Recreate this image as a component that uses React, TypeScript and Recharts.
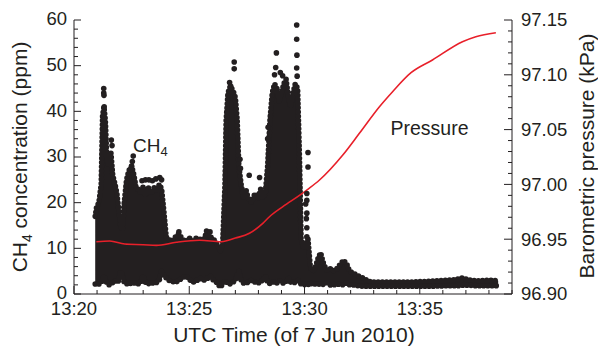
import React from "react";
import { ComposedChart, Area, Scatter, Line, XAxis, YAxis } from "recharts";

// minutes after 13:20
const xTicks = [0, 1, 2, 3, 4, 5, 6, 7, 8, 9, 10, 11, 12, 13, 14, 15, 16, 17, 18, 19];
const xMajor = [0, 5, 10, 15];
const xLabels = ["13:20", "13:25", "13:30", "13:35"];

const ch4Ticks = [0, 2, 4, 6, 8, 10, 12, 14, 16, 18, 20, 22, 24, 26, 28, 30, 32, 34, 36, 38, 40, 42, 44, 46, 48, 50, 52, 54, 56, 58, 60];
const presTicks = [
  96.9, 96.91, 96.92, 96.93, 96.94, 96.95, 96.96, 96.97, 96.98, 96.99, 97.0, 97.01, 97.02,
  97.03, 97.04, 97.05, 97.06, 97.07, 97.08, 97.09, 97.1, 97.11, 97.12, 97.13, 97.14, 97.15,
];
const presMajor = [96.9, 96.95, 97.0, 97.05, 97.1, 97.15];
const presLabels = ["96.90", "96.95", "97.00", "97.05", "97.10", "97.15"];

// dense CH4 cloud: lower / upper envelope (ppm)
const cloudT = [
  0.92, 0.98, 1.08, 1.18, 1.24, 1.3, 1.36, 1.42, 1.5, 1.6, 1.68, 1.78, 1.86, 1.95, 2.02, 2.1, 2.18, 2.28,
  2.38, 2.5, 2.6, 2.7, 2.8, 2.9, 3.0, 3.1, 3.2, 3.35, 3.5, 3.6, 3.7, 3.8, 3.9, 4.0, 4.1, 4.25, 4.4, 4.55,
  4.7, 4.85, 5.0, 5.15, 5.3, 5.45, 5.6, 5.75, 5.9, 6.05, 6.2, 6.35, 6.45, 6.55, 6.6, 6.68, 6.78, 6.9,
  7.0, 7.08, 7.15, 7.25, 7.35, 7.45, 7.55, 7.7, 7.85, 8.0, 8.1, 8.2, 8.3, 8.4, 8.5, 8.6, 8.7, 8.8, 8.9,
  9.0, 9.1, 9.2, 9.3, 9.4, 9.5, 9.6, 9.7, 9.78, 9.85, 9.95, 10.05, 10.15, 10.25, 10.35, 10.45, 10.6,
  10.7, 10.8, 10.95, 11.1, 11.2, 11.4, 11.55, 11.7, 11.85, 11.95, 12.1, 12.3, 12.5, 12.7, 12.9, 13.5,
  14.5, 15.5, 16.2, 16.6, 16.85, 17.1, 17.5, 18.0, 18.4,
];
const cloudLow = [
  2.2, 2, 2.2, 2.5, 3, 4, 3, 2.5, 2, 2.2, 2.5, 3, 2.5, 3, 5, 4, 2.5, 2.2,
  2.5, 2.2, 2.4, 2.5, 2.2, 2.6, 4, 2.5, 2.2, 2.5, 2.3, 2.6, 3, 5, 4, 3.5, 3, 2.8, 2.5, 3,
  3.5, 4, 3.2, 2.6, 2.8, 3.5, 3, 3.2, 4, 3, 2.5, 1.5, 2.2, 3, 2.6, 2.4, 2.2, 2.6,
  3, 4, 5, 3, 2.4, 2.3, 2.6, 3, 2.6, 2.4, 3, 2.8, 4, 2.5, 2.3, 2.5, 2.8, 2.4, 3,
  2.5, 2.4, 2.6, 3.5, 2.6, 2.4, 2.6, 3, 2.5, 2.2, 2, 2.2, 2, 2.5, 2, 2.2, 2.2,
  2, 2.1, 2.5, 2, 1.9, 2.2, 2.1, 2, 2.5, 2, 2, 1.8, 1.7, 1.7, 1.7, 1.7,
  1.7, 1.7, 1.8, 1.8, 1.9, 1.9, 1.8, 1.8, 1.8,
];
const cloudHigh = [
  17, 19, 20, 24, 39, 41, 38, 30, 28, 31, 26, 24, 22, 18, 15, 14, 20, 25,
  27, 28, 26, 23, 23, 22, 23.5, 21.5, 23.5, 22, 23.5, 22.5, 24, 23, 18, 12.5, 12, 11.5, 12.5, 13.2,
  12, 11.5, 12.3, 11.6, 12.2, 12, 11.8, 13.3, 12.6, 12, 11, 9.5, 11, 24, 38, 44, 45.5, 44.5,
  43, 38, 28, 24, 21, 23, 21, 20, 22, 21, 23, 21, 22, 28, 38, 44, 46, 45, 42,
  44, 46, 47, 43, 41, 44, 46, 45, 30, 12, 10, 11, 12, 6, 5, 5.5, 8,
  9, 7, 5.2, 5.6, 5, 5.5, 6.5, 7.4, 6.3, 5, 4.6, 4, 3.6, 3, 2.6, 2.6,
  2.6, 2.8, 3, 3.2, 3.5, 3.1, 2.9, 3, 2.9,
];

// sparse CH4 points above the dense cloud
const spotT = [
  1.29, 1.29, 1.3, 1.31, 1.62, 1.65, 2.57, 2.53, 2.5, 2.45, 2.95, 3.1, 3.25, 3.4, 3.55, 3.72, 3.8,
  4.55, 5.75, 5.9, 6.95, 6.95, 6.75, 6.8, 7.2, 7.22, 7.6, 8.05, 8.78, 8.75, 8.7, 8.95, 9.05, 9.66,
  9.66, 9.67, 9.66, 9.68, 8.42, 8.4, 10.1, 10.1, 10.05, 10.1, 10.08, 10.1, 10.1, 10.15, 10.15,
];
const spotV = [
  45, 44, 43.5, 41, 33.7, 32.5, 30.2, 29, 28, 27.3, 24.8, 25, 25, 24.8, 25.2, 25.5, 25,
  13.6, 13.8, 13.6, 50.8, 49.3, 46.3, 45.5, 29.5, 27.5, 26, 25.5, 52.8, 49.6, 48, 48.5, 47.8, 58.9,
  55.8, 52.3, 49.5, 47.7, 36.5, 34, 22, 20.5, 19.7, 17.7, 16.5, 14.5, 12.5, 31, 27.8,
];

// barometric pressure (kPa)
const presT = [
  0.97, 1.55, 2.2, 3.0, 3.57, 4.44, 5.45, 6.39, 7.0, 7.61, 8.19, 8.48, 9.06, 9.78, 10.2, 10.65, 11.66,
  12.38, 13.25, 13.82, 14.62, 15.55, 16.85, 17.43, 18.3,
];
const presV = [
  96.9477, 96.9484, 96.9456, 96.945, 96.9444, 96.9472, 96.949, 96.9477, 96.951, 96.9554, 96.9645,
  96.9705, 96.9797, 96.99, 96.9964, 97.004, 97.0268, 97.0466, 97.0709, 97.0846, 97.1019, 97.1135,
  97.1302, 97.1348, 97.1384,
];

const cloud = cloudT.map((t, i) => ({ t, range: [cloudLow[i], cloudHigh[i]] }));
const spots = spotT.map((t, i) => ({ t, v: spotV[i] }));
const pressure = presT.map((t, i) => ({ t, p: presV[i] }));

const INK = "#231f20";
const FONT = "'Liberation Sans', Arial, sans-serif";

function BottomTick({ x, y, payload }: any) {
  const k = xMajor.indexOf(payload.value);
  return (
    <g>
      <line x1={x} x2={x} y1={y} y2={y - (k >= 0 ? 8 : 4)} stroke={INK} />
      {k >= 0 && (
        <text x={x} y={y + 21} textAnchor="middle" fontSize={18.5} fill={INK} fontFamily={FONT}>
          {xLabels[k]}
        </text>
      )}
    </g>
  );
}

function TopTick({ x, y, payload }: any) {
  const major = xMajor.includes(payload.value);
  return <line x1={x} x2={x} y1={y} y2={y + (major ? 8 : 4)} stroke={INK} />;
}

function LeftTick({ x, y, payload }: any) {
  const major = payload.value % 10 === 0;
  return (
    <g>
      <line x1={x} x2={x + (major ? 7 : 4)} y1={y} y2={y} stroke={INK} />
      {major && (
        <text x={x - 7} y={y} dy="0.28em" textAnchor="end" fontSize={18.5} fill={INK} fontFamily={FONT}>
          {payload.value}
        </text>
      )}
    </g>
  );
}

function RightTick({ x, y, payload }: any) {
  const k = presMajor.findIndex((m) => Math.abs(m - payload.value) < 1e-6);
  return (
    <g>
      <line x1={x} x2={x - (k >= 0 ? 8 : 4)} y1={y} y2={y} stroke={INK} />
      {k >= 0 && (
        <text x={x + 9} y={y} dy="0.35em" textAnchor="start" fontSize={18.5} fill={INK} fontFamily={FONT}>
          {presLabels[k]}
        </text>
      )}
    </g>
  );
}

export default function App() {
  return (
    <div style={{ position: "absolute", left: 0, top: 0, width: 598, height: 347, background: "#fff", fontFamily: FONT }}>
      <ComposedChart width={598} height={347} margin={{ top: 20, right: 0, bottom: 0, left: 0 }}>
        <XAxis
          xAxisId="b"
          type="number"
          dataKey="t"
          domain={[0, 19]}
          ticks={xTicks}
          interval={0}
          allowDataOverflow
          height={53}
          tickSize={0}
          tickMargin={0}
          tickLine={false}
          axisLine={{ stroke: INK }}
          tick={BottomTick}
        />
        <XAxis
          xAxisId="top"
          orientation="top"
          type="number"
          dataKey="t"
          domain={[0, 19]}
          ticks={xTicks}
          interval={0}
          allowDataOverflow
          height={0}
          tickSize={0}
          tickMargin={0}
          tickLine={false}
          axisLine={{ stroke: INK }}
          tick={TopTick}
        />
        <YAxis
          yAxisId="l"
          type="number"
          domain={[0, 60]}
          ticks={ch4Ticks}
          interval={0}
          allowDataOverflow
          width={74}
          tickSize={0}
          tickMargin={0}
          tickLine={false}
          axisLine={{ stroke: INK }}
          tick={LeftTick}
        />
        <YAxis
          yAxisId="r"
          orientation="right"
          type="number"
          domain={[96.9, 97.15]}
          ticks={presTicks}
          interval={0}
          allowDataOverflow
          width={86}
          tickSize={0}
          tickMargin={0}
          tickLine={false}
          axisLine={{ stroke: INK }}
          tick={RightTick}
        />
        <Area
          xAxisId="b"
          yAxisId="l"
          data={cloud}
          dataKey="range"
          type="linear"
          stroke={INK}
          strokeWidth={5.6}
          strokeDasharray="0 4.2"
          strokeLinejoin="round"
          strokeLinecap="round"
          fill={INK}
          fillOpacity={1}
          dot={false}
          activeDot={false}
          isAnimationActive={false}
        />
        <Scatter
          xAxisId="b"
          yAxisId="l"
          data={spots}
          dataKey="v"
          fill={INK}
          isAnimationActive={false}
          shape={(p: any) => <circle cx={p.cx} cy={p.cy} r={2.8} fill={INK} />}
        />
        <Line
          xAxisId="b"
          yAxisId="r"
          data={pressure}
          dataKey="p"
          type="monotone"
          stroke="#e8202a"
          strokeWidth={1.6}
          dot={false}
          activeDot={false}
          isAnimationActive={false}
        />
      </ComposedChart>
      <svg
        width={598}
        height={347}
        style={{ position: "absolute", left: 0, top: 0, pointerEvents: "none" }}
        fontFamily={FONT}
        fill={INK}
      >
        <text transform="translate(27,157) rotate(-90)" textAnchor="middle" fontSize={21}>
          CH<tspan fontSize={14} dy={5}>4</tspan>
          <tspan dy={-5}> concentration (ppm)</tspan>
        </text>
        <text transform="translate(594,156) rotate(-90)" textAnchor="middle" fontSize={21}>
          Barometric pressure (kPa)
        </text>
        <text x={294} y={342} textAnchor="middle" fontSize={21}>
          UTC Time (of 7 Jun 2010)
        </text>
        <text x={133} y={152} fontSize={19}>
          CH<tspan fontSize={13} dy={4}>4</tspan>
        </text>
        <text x={390.5} y={135} fontSize={19.5}>
          Pressure
        </text>
      </svg>
    </div>
  );
}
